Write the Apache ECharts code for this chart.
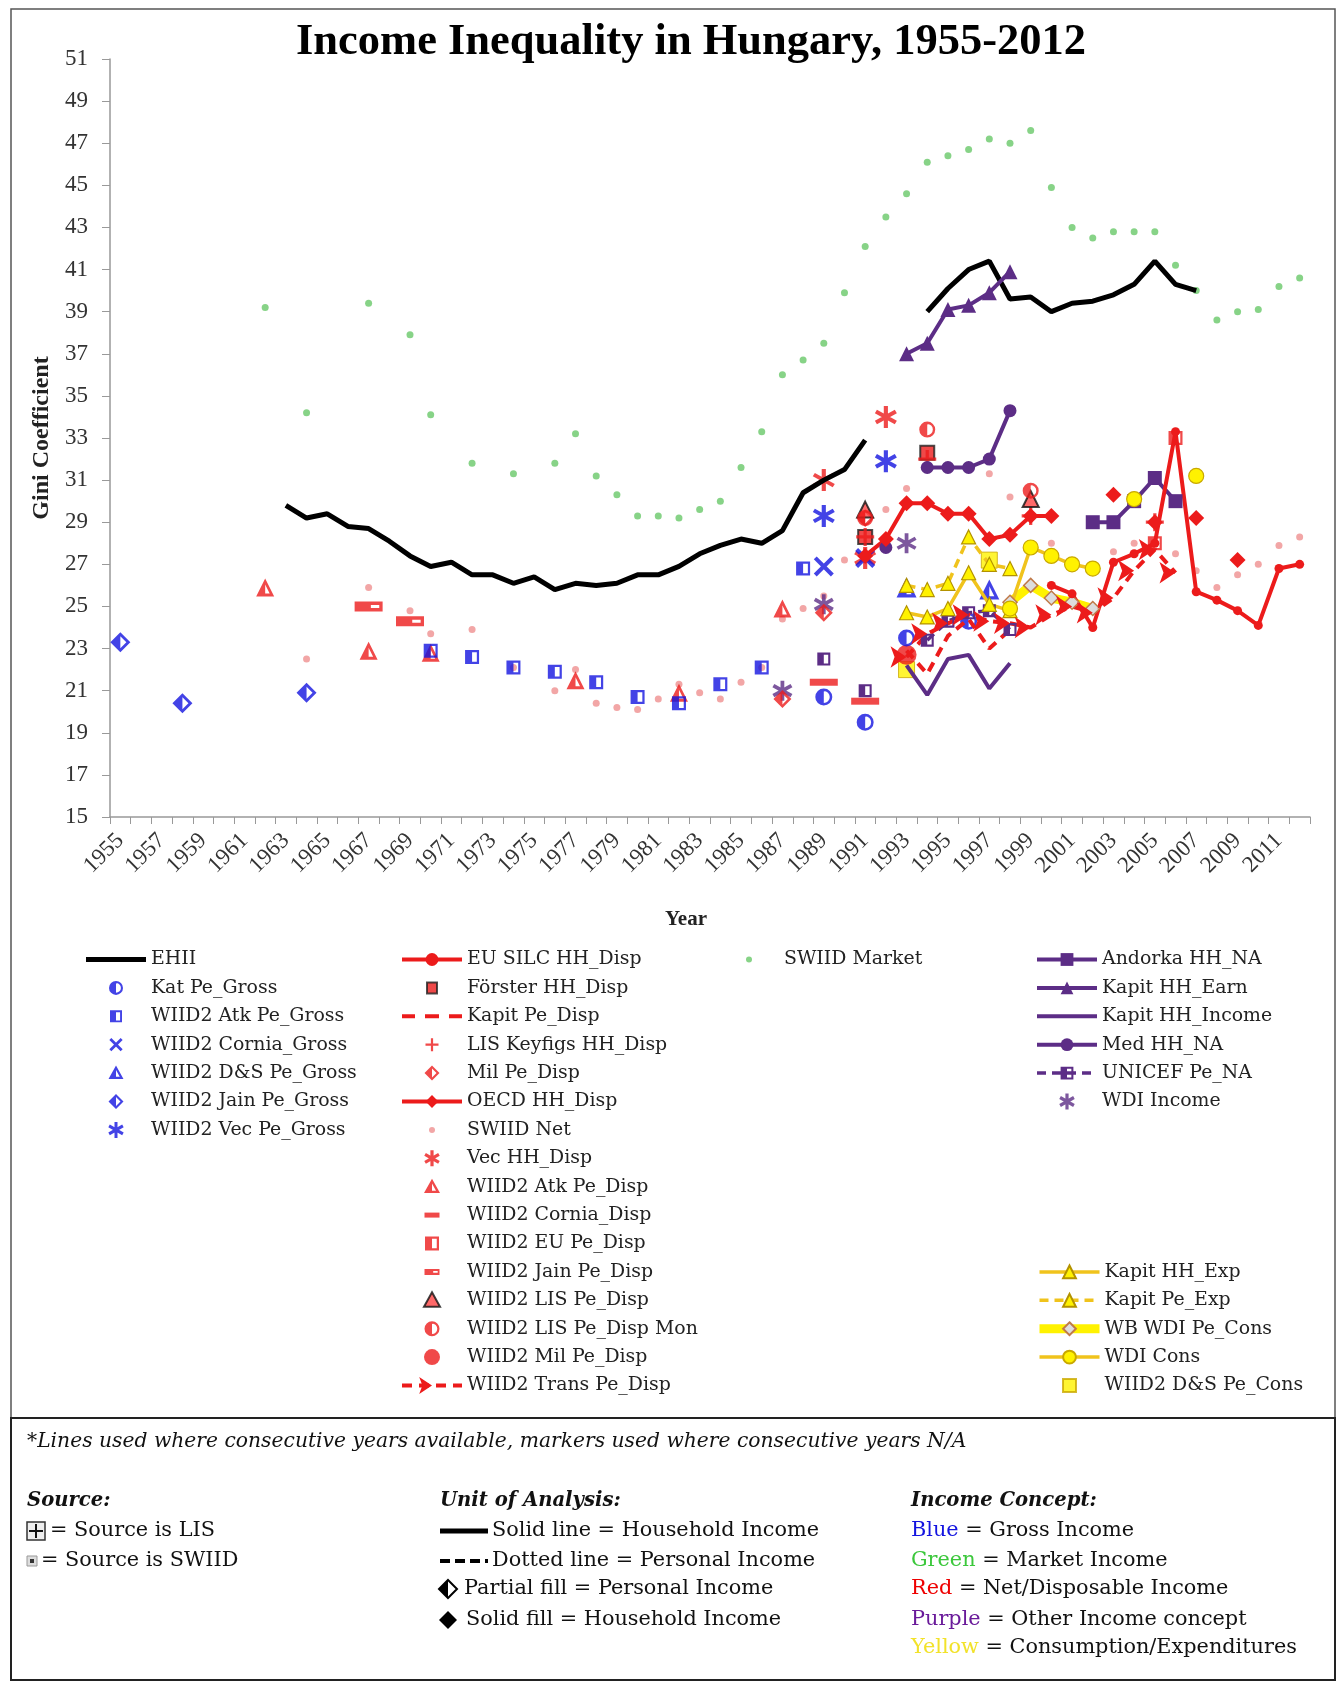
<!DOCTYPE html>
<html><head><meta charset="utf-8">
<script src="https://cdn.jsdelivr.net/npm/echarts/dist/echarts.min.js"></script>
<style>html,body{margin:0;padding:0;background:#fff}#c{width:1337px;height:1681px}</style>
</head><body><div id="c"></div><script>
// ---------- DATA ----------
const years = ['1955','1956','1957','1958','1959','1960','1961','1962','1963','1964','1965','1966','1967','1968','1969','1970','1971','1972','1973','1974','1975','1976','1977','1978','1979','1980','1981','1982','1983','1984','1985','1986','1987','1988','1989','1990','1991','1992','1993','1994','1995','1996','1997','1998','1999','2000','2001','2002','2003','2004','2005','2006','2007','2008','2009','2010','2011','2012'];
const yMin = 15, yMax = 51, yStep = 2;

const ehii = [[1963,29.8],[1964,29.2],[1965,29.4],[1966,28.8],[1967,28.7],[1968,28.1],[1969,27.4],[1970,26.9],[1971,27.1],[1972,26.5],[1973,26.5],[1974,26.1],[1975,26.4],[1976,25.8],[1977,26.1],[1978,26.0],[1979,26.1],[1980,26.5],[1981,26.5],[1982,26.9],[1983,27.5],[1984,27.9],[1985,28.2],[1986,28.0],[1987,28.6],[1988,30.4],[1989,31.0],[1990,31.5],[1991,32.9],[1994,39.0],[1995,40.1],[1996,41.0],[1997,41.4],[1998,39.6],[1999,39.7],[2000,39.0],[2001,39.4],[2002,39.5],[2003,39.8],[2004,40.3],[2005,41.4],[2006,40.3],[2007,40.0]];
const swiidMarket = [[1962,39.2],[1964,34.2],[1967,39.4],[1969,37.9],[1970,34.1],[1972,31.8],[1974,31.3],[1976,31.8],[1977,33.2],[1978,31.2],[1979,30.3],[1980,29.3],[1981,29.3],[1982,29.2],[1983,29.6],[1984,30.0],[1985,31.6],[1986,33.3],[1987,36.0],[1988,36.7],[1989,37.5],[1990,39.9],[1991,42.1],[1992,43.5],[1993,44.6],[1994,46.1],[1995,46.4],[1996,46.7],[1997,47.2],[1998,47.0],[1999,47.6],[2000,44.9],[2001,43.0],[2002,42.5],[2003,42.8],[2004,42.8],[2005,42.8],[2006,41.2],[2007,40.0],[2008,38.6],[2009,39.0],[2010,39.1],[2011,40.2],[2012,40.6]];
const swiidNet = [[1964,22.5],[1967,25.9],[1969,24.8],[1970,23.7],[1972,23.9],[1974,22.1],[1976,21.0],[1977,22.0],[1978,20.4],[1979,20.2],[1980,20.1],[1981,20.6],[1982,21.3],[1983,20.9],[1984,20.6],[1985,21.4],[1986,22.1],[1987,24.4],[1988,24.9],[1989,25.5],[1990,27.2],[1992,29.6],[1993,30.6],[1997,31.3],[1998,30.2],[2000,28.0],[2003,27.6],[2004,28.0],[2006,27.5],[2007,26.7],[2008,25.9],[2009,26.5],[2010,27.0],[2011,27.9],[2012,28.3]];

const katPeGross = [[1989,20.7],[1991,19.5],[1993,23.5],[1996,24.3]];
const atkPeGross = [[1970,22.9],[1972,22.6],[1974,22.1],[1976,21.9],[1978,21.4],[1980,20.7],[1982,20.4],[1984,21.3],[1986,22.1],[1988,26.8]];
const corniaGross = [[1989,26.9],[1991,27.3]];
const dsPeGross = [[1993,25.9],[1997,25.8]];
const jainPeGross = [[1955,23.3],[1958,20.4],[1964,20.9]];
const vecPeGross = [[1989,29.3],[1992,31.9]];

const euSilc = [[2000,26.0],[2001,25.6],[2002,24.0],[2003,27.1],[2004,27.5],[2005,28.0],[2006,33.3],[2007,25.7],[2008,25.3],[2009,24.8],[2010,24.1],[2011,26.8],[2012,27.0]];
const forster = [[1991,28.3],[1994,32.3]];
const kapitPeDisp = [[1993,22.9],[1994,21.8],[1995,23.6],[1996,24.4],[1997,23.0],[1998,23.9]];
const lisKeyfigs = [[1991,28.3],[1994,32.0],[1999,29.3],[2005,29.0]];
const milPeDisp = [[1987,20.6],[1989,24.7],[1991,29.2]];
const oecd = [[1991,27.4],[1992,28.2],[1993,29.9],[1994,29.9],[1995,29.4],[1996,29.4],[1997,28.2],[1998,28.4],[1999,29.3],[2000,29.3],[2003,30.3],[2005,29.0],[2007,29.2],[2009,27.2]];
const vecHH = [[1989,31.0],[1991,27.3],[1992,34.0]];
const atkPeDisp = [[1962,25.9],[1967,22.9],[1970,22.8],[1977,21.5],[1982,20.9],[1987,24.9]];
const corniaDisp = [[1989,21.4],[1991,20.5]];
const euPeDisp = [[2005,28.0],[2006,33.0]];
const jainPeDisp = [[1967,25.0],[1969,24.3]];
const lisPeDisp = [[1991,29.6],[1999,30.1]];
const lisPeDispMon = [[1991,29.2],[1994,33.4],[1999,30.5]];
const milWiid = [[1993,22.7]];
const transPeDisp = [[1993,22.6],[1994,23.7],[1995,24.2],[1996,24.6],[1997,24.3],[1998,24.2],[1999,24.0],[2000,24.6],[2001,25.0],[2002,24.7],[2003,25.4],[2004,26.7],[2005,27.7],[2006,26.6]];

const andorka = [[2002,29.0],[2003,29.0],[2004,30.0],[2005,31.1],[2006,30.0]];
const kapitHHEarn = [[1993,37.0],[1994,37.5],[1995,39.1],[1996,39.3],[1997,39.9],[1998,40.9]];
const kapitHHIncome = [[1993,22.2],[1994,20.8],[1995,22.5],[1996,22.7],[1997,21.1],[1998,22.3]];
const medHH = [[1992,27.8],[1994,31.6],[1995,31.6],[1996,31.6],[1997,32.0],[1998,34.3]];
const unicef = [[1989,22.5],[1991,21.0],[1994,23.4],[1995,24.3],[1996,24.7],[1997,24.8],[1998,23.9]];
const wdiIncome = [[1987,21.0],[1989,25.1],[1993,28.0]];

const kapitHHExp = [[1993,24.7],[1994,24.5],[1995,24.9],[1996,26.6],[1997,25.1],[1998,24.8]];
const kapitPeExp = [[1993,26.0],[1994,25.8],[1995,26.1],[1996,28.3],[1997,27.0],[1998,26.8]];
const wbWdiCons = [[1998,25.2],[1999,26.0],[2000,25.4],[2001,25.2],[2002,24.9]];
const wdiCons = [[1998,24.9],[1999,27.8],[2000,27.4],[2001,27.0],[2002,26.8],[2004,30.1],[2007,31.2]];
const dsPeCons = [[1993,22.0],[1997,27.2]];

// ---------- STYLE ----------
const SERIF = '"Liberation Serif", "DejaVu Serif", serif';
const DJV = '"DejaVu Serif", serif';
const BLUE='#1414e0', RED='#ec1b1b', PURPLE='#5c2d86', GREEN='#69c869', PINK='#ef9090', GOLD='#f0c31c', YEL='#fff200';

function full(pairs){ const m={}; pairs.forEach(p=>{m[String(p[0])]=p[1];}); return years.map(y=> (y in m) ? m[y] : '-'); }
function pts(pairs){ return pairs.map(p=>[String(p[0]), p[1]]); }

// symbol path builders (r = half size in px)
function f(n){ return (+n).toFixed(2); }
function bars(angles, L, W){
  let d='';
  angles.forEach(a=>{const r=a*Math.PI/180,c=Math.cos(r),s=Math.sin(r);
    const P=[[-L,-W],[L,-W],[L,W],[-L,W]].map(([x,y])=>[f(x*c-y*s),f(x*s+y*c)]);
    d+='M'+P[0].join(',')+'L'+P[1].join(',')+'L'+P[2].join(',')+'L'+P[3].join(',')+'Z';});
  return d;
}
const xP = (L,W)=>bars([45,-45],L,W);
const plusP = (L,W)=>bars([0,90],L,W);
const astP = (L,W)=>bars([90,30,-30],L,W);
function halfCircleP(r){ const q=r*0.7; return `M0,${-r}A${r},${r},0,0,0,0,${r}Z M0,${-r}A${r},${r},0,0,1,0,${r}L0,${f(q)}A${f(q)},${f(q)},0,0,0,0,${f(-q)}Z`; }
function halfSquareP(r){ const t=r*0.32; return `M${-r},${-r}H0V${r}H${-r}Z M0,${-r}H${r}V${r}H0V${f(r-t)}H${f(r-t)}V${f(-r+t)}H0Z`; }
function halfDiamondP(r){ const t=r*0.4; return `M0,${-r}L${-r},0L0,${r}Z M0,${-r}L${r},0L0,${r}L0,${f(r-t)}L${f(r-t)},0L0,${f(-r+t)}Z`; }
function halfTriP(r){ return `M0,${-r}L${-r},${f(.8*r)}L0,${f(.8*r)}Z M0,${-r}L${r},${f(.8*r)}L0,${f(.8*r)}L0,${f(.5*r)}L${f(.5*r)},${f(.5*r)}L0,${f(-.4*r)}Z`; }
function triP(r){ return `M0,${-r}L${r},${f(.8*r)}L${-r},${f(.8*r)}Z`; }
function rectP(w,h){ return `M${-w/2},${-h/2}H${w/2}V${h/2}H${-w/2}Z`; }
function jainP(w,h){ return rectP(w,h)+` M${f(w*0.08)},${f(-h*0.15)}V${f(h*0.15)}H${f(w*0.38)}V${f(-h*0.15)}Z`; }
function circleP(r){ return `M${-r},0A${r},${r},0,1,0,${r},0A${r},${r},0,1,0,${-r},0Z`; }
const P = s => 'path://' + s;
const LEG = s => 'path://M-30,-8M30,8 ' + s;   // legend icon, 1:1 pixel scale in a 60x16 box

function sc(name, pairs, symbol, size, color, extra){
  return Object.assign({name, type:'scatter', data:pts(pairs), symbol, symbolSize:size, itemStyle:{color}}, extra||{});
}
function ln(name, pairs, color, width, symbol, size, extra){
  return Object.assign({name, type:'line', data:full(pairs), connectNulls:false, showAllSymbol:true,
    symbol: symbol||'none', symbolSize:size||8, lineStyle:{color, width}, itemStyle:{color}}, extra||{});
}

const series = [
  sc('SWIID Market', swiidMarket, 'circle', 7, GREEN),
  sc('SWIID Net', swiidNet, 'circle', 7, PINK),
  ln('EHII', ehii, '#000', 5, 'none'),
  ln('Kapit HH_Earn', kapitHHEarn, PURPLE, 4, 'triangle', 15),
  ln('Med HH_NA', medHH, PURPLE, 4, 'circle', 13),
  ln('Andorka HH_NA', andorka, PURPLE, 4, 'rect', 14),
  ln('Kapit HH_Income', kapitHHIncome, PURPLE, 4, 'none'),
  ln('UNICEF Pe_NA', unicef, PURPLE, 3.5, P(halfSquareP(10)), 13, {lineStyle:{color:PURPLE,width:3.5,type:[9,6]}}),
  sc('WDI Income', wdiIncome, P(astP(10,1.8)), 20, PURPLE),
  ln('Kapit Pe_Exp', kapitPeExp, GOLD, 3.5, 'triangle', 14, {lineStyle:{color:GOLD,width:3.5,type:[9,6]}, itemStyle:{color:YEL,borderColor:'#b39200',borderWidth:1.2}}),
  ln('Kapit HH_Exp', kapitHHExp, GOLD, 3.5, 'triangle', 14, {itemStyle:{color:YEL,borderColor:'#b39200',borderWidth:1.2}}),
  ln('WB WDI Pe_Cons', wbWdiCons, YEL, 9, 'diamond', 14, {itemStyle:{color:'#ddd',borderColor:'#c07a4a',borderWidth:1.5}}),
  ln('WDI Cons', wdiCons, GOLD, 3.5, 'circle', 15, {itemStyle:{color:YEL,borderColor:'#c9a800',borderWidth:1.2}}),
  sc('WIID2 D&S Pe_Cons', dsPeCons, 'rect', 16, YEL, {itemStyle:{color:YEL,borderColor:'#c9a800',borderWidth:1}}),
  ln('Kapit Pe_Disp', kapitPeDisp, RED, 4, 'none', 8, {lineStyle:{color:RED,width:4,type:[10,7]}}),
  ln('WIID2 Trans Pe_Disp', transPeDisp, RED, 4, 'arrow', 16, {symbolRotate:-90, lineStyle:{color:RED,width:4,type:[10,7]}}),
  ln('EU SILC HH_Disp', euSilc, RED, 4, 'circle', 9),
  ln('OECD HH_Disp', oecd, RED, 4, 'diamond', 16),
  sc('Förster HH_Disp', forster, 'rect', 14, RED, {itemStyle:{color:RED,borderColor:'#222',borderWidth:2}}),
  sc('LIS Keyfigs HH_Disp', lisKeyfigs, P(plusP(10,1.8)), 18, RED),
  sc('Mil Pe_Disp', milPeDisp, P(halfDiamondP(10)), 18, RED),
  sc('Vec HH_Disp', vecHH, P(astP(10,1.8)), 22, RED),
  sc('WIID2 Atk Pe_Disp', atkPeDisp, P(halfTriP(10)), 18, RED),
  sc('WIID2 Cornia_Disp', corniaDisp, 'rect', [28,7], RED),
  sc('WIID2 EU Pe_Disp', euPeDisp, P(halfSquareP(10)), 14, RED),
  sc('WIID2 Jain Pe_Disp', jainPeDisp, P(jainP(26,10)), [28,10], RED),
  sc('WIID2 LIS Pe_Disp', lisPeDisp, 'triangle', 16, RED, {itemStyle:{color:'#f44',borderColor:'#111',borderWidth:2}}),
  sc('WIID2 LIS Pe_Disp Mon', lisPeDispMon, P(halfCircleP(10)), 16, RED),
  sc('WIID2 Mil Pe_Disp', milWiid, 'circle', 20, RED),
  sc('Kat Pe_Gross', katPeGross, P(halfCircleP(10)), 17, BLUE),
  sc('WIID2 Atk Pe_Gross', atkPeGross, P(halfSquareP(10)), 14, BLUE),
  sc('WIID2 Cornia_Gross', corniaGross, P(xP(10,1.7)), 20, BLUE),
  sc('WIID2 D&S Pe_Gross', dsPeGross, P(halfTriP(10)), 20, BLUE),
  sc('WIID2 Jain Pe_Gross', jainPeGross, P(halfDiamondP(10)), 20, BLUE),
  sc('WIID2 Vec Pe_Gross', vecPeGross, P(astP(10,1.8)), 22, BLUE)
];

// legend (icons sized in pixels inside a 60x16 box)
const legendBase = {orient:'vertical', padding:0, itemWidth:60, itemHeight:16, itemGap:8.4, symbolKeepAspect:true,
  lineStyle:{width:'inherit'},
  textStyle:{fontFamily:DJV, fontSize:18.9, color:'#222', lineHeight:20}, selectedMode:false};
const L1 = [
  {name:'EHII', icon:LEG('M-30,-2.5H30V2.5H-30Z')},
  {name:'Kat Pe_Gross', icon:LEG(halfCircleP(7))},
  {name:'WIID2 Atk Pe_Gross', icon:LEG(halfSquareP(6))},
  {name:'WIID2 Cornia_Gross', icon:LEG(xP(8,1.4))},
  {name:'WIID2 D&S Pe_Gross', icon:LEG(halfTriP(7.5))},
  {name:'WIID2 Jain Pe_Gross', icon:LEG(halfDiamondP(7.5))},
  {name:'WIID2 Vec Pe_Gross', icon:LEG(astP(8,1.5))}];
const L2 = [
  'EU SILC HH_Disp',
  {name:'Förster HH_Disp', icon:LEG(rectP(10,11))},
  {name:'Kapit Pe_Disp', icon:LEG('M-30,-2H-17V2H-30Z M-7,-2H7V2H-7Z M17,-2H30V2H17Z')},
  {name:'LIS Keyfigs HH_Disp', icon:LEG(plusP(6.5,1.1))},
  {name:'Mil Pe_Disp', icon:LEG(halfDiamondP(7.5))},
  'OECD HH_Disp',
  {name:'SWIID Net', icon:LEG(circleP(3))},
  {name:'Vec HH_Disp', icon:LEG(astP(8,1.6))},
  {name:'WIID2 Atk Pe_Disp', icon:LEG(halfTriP(8))},
  {name:'WIID2 Cornia_Disp', icon:LEG(rectP(15,5))},
  {name:'WIID2 EU Pe_Disp', icon:LEG(halfSquareP(7))},
  {name:'WIID2 Jain Pe_Disp', icon:LEG(jainP(15,6))},
  {name:'WIID2 LIS Pe_Disp', icon:LEG(triP(8))},
  {name:'WIID2 LIS Pe_Disp Mon', icon:LEG(halfCircleP(7.5))},
  {name:'WIID2 Mil Pe_Disp', icon:LEG(circleP(8))},
  'WIID2 Trans Pe_Disp'];
const L3 = [{name:'SWIID Market', icon:LEG(circleP(3))}];
const L4 = ['Andorka HH_NA','Kapit HH_Earn',{name:'Kapit HH_Income', icon:LEG('M-30,-2H30V2H-30Z')},'Med HH_NA','UNICEF Pe_NA',{name:'WDI Income', icon:LEG(astP(8,1.6))}];
const L5 = ['Kapit HH_Exp','Kapit Pe_Exp','WB WDI Pe_Cons','WDI Cons',{name:'WIID2 D&S Pe_Cons', icon:LEG(rectP(13,13))}];
const LT = 949.5;
const legends = [
  Object.assign({}, legendBase, {data:L1, left:86, top:LT}),
  Object.assign({}, legendBase, {data:L2, left:400, top:LT}),
  Object.assign({}, legendBase, {data:L3, left:719, top:LT}),
  Object.assign({}, legendBase, {data:L4, left:1035, top:LT}),
  Object.assign({}, legendBase, {data:L5, left:1035, top:LT + 11*28.4})
];

// bottom box
const BF = '20.8px "DejaVu Serif", serif';
const BFI = 'italic 20.3px "DejaVu Serif", serif';
const BFBI = 'italic bold 19.6px "DejaVu Serif", serif';
function T(x,y,text,font,rich){ return {type:'text', silent:true, style:{x, y, text, font, fill:'#111', verticalAlign:'middle', align:'left', rich:rich}}; }
const graphic = [
  {type:'rect', silent:true, z:-10, shape:{x:11,y:9,width:1324,height:1409}, style:{fill:'none', stroke:'#555', lineWidth:1.5}},
  {type:'rect', silent:true, shape:{x:11,y:1418,width:1324,height:262}, style:{fill:'none', stroke:'#222', lineWidth:2}},
  T(27,1442,'*Lines used where consecutive years available, markers used where consecutive years N/A',BFI),
  T(27,1501,'Source:',BFBI),
  {type:'rect', silent:true, shape:{x:27,y:1522,width:18,height:18}, style:{fill:'#eee', stroke:'#333', lineWidth:1.5}},
  {type:'line', silent:true, shape:{x1:29,y1:1531,x2:43,y2:1531}, style:{stroke:'#111', lineWidth:2}},
  {type:'line', silent:true, shape:{x1:36,y1:1524,x2:36,y2:1538}, style:{stroke:'#111', lineWidth:2}},
  T(50,1531,'= Source is LIS',BF),
  {type:'rect', silent:true, shape:{x:27,y:1556,width:10,height:10}, style:{fill:'#ddd', stroke:'#999', lineWidth:1}},
  {type:'rect', silent:true, shape:{x:30,y:1559,width:4,height:4}, style:{fill:'#333'}},
  T(41,1561,'= Source is SWIID',BF),
  T(440,1501,'Unit of Analysis:',BFBI),
  {type:'line', silent:true, shape:{x1:440,y1:1531,x2:488,y2:1531}, style:{stroke:'#000', lineWidth:5}},
  T(492,1531,'Solid line = Household Income',BF),
  {type:'line', silent:true, shape:{x1:440,y1:1561,x2:488,y2:1561}, style:{stroke:'#000', lineWidth:4, lineDash:[10,5]}},
  T(492,1561,'Dotted line = Personal Income',BF),
  {type:'polygon', silent:true, shape:{points:[[448,1580],[457,1589],[448,1598],[439,1589]]}, style:{fill:'#fff', stroke:'#000', lineWidth:2}},
  {type:'polygon', silent:true, shape:{points:[[448,1580],[439,1589],[448,1598]]}, style:{fill:'#000'}},
  T(464,1589,'Partial fill = Personal Income',BF),
  {type:'polygon', silent:true, shape:{points:[[448,1611],[457,1620],[448,1629],[439,1620]]}, style:{fill:'#000'}},
  T(466,1620,'Solid fill = Household Income',BF),
  T(911,1501,'Income Concept:',BFBI),
  T(911,1531,'{c|Blue} = Gross Income',BF,{c:{fill:'#1414e0',font:BF}}),
  T(911,1561,'{c|Green} = Market Income',BF,{c:{fill:'#3cc83c',font:BF}}),
  T(911,1589,'{c|Red} = Net/Disposable Income',BF,{c:{fill:'#e00',font:BF}}),
  T(911,1620,'{c|Purple} = Other Income concept',BF,{c:{fill:'#6a1b9a',font:BF}}),
  T(911,1648,'{c|Yellow} = Consumption/Expenditures',BF,{c:{fill:'#f2e22a',font:BF}})
];

const option = {
  backgroundColor:'#fff',
  animation:false,
  title:{text:'Income Inequality in Hungary, 1955-2012', left:686, textAlign:'center', top:15,
    textStyle:{fontFamily:SERIF, fontWeight:'bold', fontSize:44.5, color:'#000'}},
  grid:{left:110, right:27, top:59, bottom:864, containLabel:false},
  xAxis:{type:'category', data:years, boundaryGap:true,
    name:'Year', nameLocation:'middle', nameGap:92,
    nameTextStyle:{fontFamily:SERIF, fontWeight:'bold', fontSize:21, color:'#222', padding:[0,48,0,0]},
    axisLine:{lineStyle:{color:'#999', width:1.5}},
    axisTick:{show:true, interval:0, length:7, lineStyle:{color:'#999'}},
    axisLabel:{interval:1, rotate:45, margin:20, fontFamily:SERIF, fontSize:23, color:'#333'}},
  yAxis:{type:'value', min:yMin, max:yMax, interval:yStep,
    name:'Gini Coefficient', nameLocation:'middle', nameGap:55,
    nameTextStyle:{fontFamily:SERIF, fontWeight:'bold', fontSize:24, color:'#222'},
    axisLine:{show:true, lineStyle:{color:'#999', width:1.5}},
    axisTick:{show:true, length:8, lineStyle:{color:'#999'}},
    splitLine:{show:false},
    axisLabel:{margin:22, fontFamily:SERIF, fontSize:23, color:'#333'}},
  legend: legends,
  series: series,
  graphic: graphic
};
const chart = echarts.init(document.getElementById('c'), null, {renderer:'canvas'});
chart.setOption(option);
</script></body></html>
